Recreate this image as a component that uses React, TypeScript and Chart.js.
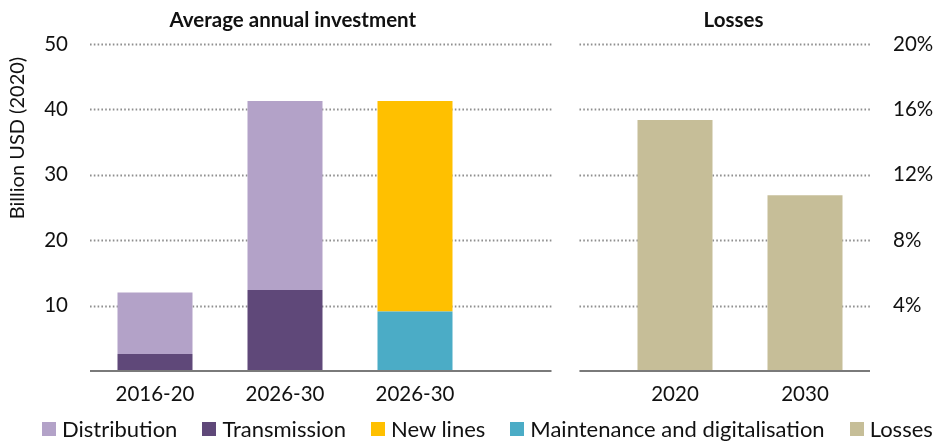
import React, { useEffect, useRef } from "react";
import { Chart, registerables } from "chart.js";

Chart.register(...registerables);

const categories = ["2016-20", "2026-30", "2026-30", "", "2020", "2030"];
const transmission = [2.6, 12.4, null, null, null, null];
const distribution = [9.4, 28.9, null, null, null, null];
const maintenance = [null, null, 9.1, null, null, null];
const newLines = [null, null, 32.2, null, null, null];
const losses = [null, null, null, null, 15.35, 10.75];

const leftTicks = [0, 10, 20, 30, 40, 50];
const rightTicks = [0, 4, 8, 12, 16, 20];

const COLORS = {
  distribution: "#B3A2C8",
  transmission: "#5F4879",
  newLines: "#FFC000",
  maintenance: "#4BACC6",
  losses: "#C6BE98",
};

const legendItems = [
  { label: "Distribution", color: COLORS.distribution },
  { label: "Transmission", color: COLORS.transmission },
  { label: "New lines", color: COLORS.newLines },
  { label: "Maintenance and digitalisation", color: COLORS.maintenance },
  { label: "Losses", color: COLORS.losses },
];

const FONT = "Lato, 'Open Sans', sans-serif";
const TEXT = "#111111";

const panelPlugin = {
  id: "panelPlugin",
  beforeDatasetsDraw(chart: any) {
    const { ctx, chartArea, scales } = chart;
    const x = scales.x;
    const y = scales.y;
    const leftEnd = x.getPixelForValue(3.05);
    const rightStart = x.getPixelForValue(3.265);
    ctx.save();
    ctx.strokeStyle = "#8f8f8f";
    ctx.lineWidth = 1.8;
    ctx.setLineDash([1.6, 2.2]);
    leftTicks.forEach((v) => {
      if (v === 0) return;
      const py = Math.round(y.getPixelForValue(v)) + 0.5;
      ctx.beginPath();
      ctx.moveTo(chartArea.left, py);
      ctx.lineTo(leftEnd, py);
      ctx.moveTo(rightStart, py);
      ctx.lineTo(chartArea.right, py);
      ctx.stroke();
    });
    ctx.restore();
  },
  afterDatasetsDraw(chart: any) {
    const { ctx, chartArea, scales } = chart;
    const x = scales.x;
    const y = scales.y;
    const leftEnd = x.getPixelForValue(3.05);
    const rightStart = x.getPixelForValue(3.265);
    const py = y.getPixelForValue(0);
    ctx.save();
    ctx.strokeStyle = "#7a7a7a";
    ctx.lineWidth = 2;
    ctx.beginPath();
    ctx.moveTo(chartArea.left, py);
    ctx.lineTo(leftEnd, py);
    ctx.moveTo(rightStart, py);
    ctx.lineTo(chartArea.right, py);
    ctx.stroke();

    ctx.fillStyle = TEXT;
    ctx.font = `bold 20.5px ${FONT}`;
    ctx.textAlign = "center";
    ctx.textBaseline = "alphabetic";
    ctx.fillText("Average annual investment", x.getPixelForValue(1.06), 27);
    ctx.fillText("Losses", x.getPixelForValue(4.45), 27);

    ctx.font = `20px ${FONT}`;
    ctx.translate(18, chartArea.top + 94);
    ctx.rotate(-Math.PI / 2);
    ctx.textBaseline = "middle";
    ctx.fillText("Billion USD (2020)", 0, 0);
    ctx.restore();
  },
};

export default function App() {
  const ref = useRef<HTMLCanvasElement | null>(null);

  useEffect(() => {
    if (!ref.current) return;
    const mk = (label: string, data: any[], color: string, yAxisID = "y") => ({
      label,
      data,
      backgroundColor: color,
      borderWidth: 0,
      yAxisID,
      barPercentage: 0.577,
      categoryPercentage: 1,
    });
    const chart = new Chart(ref.current, {
      type: "bar",
      data: {
        labels: categories,
        datasets: [
          mk("Transmission", transmission, COLORS.transmission),
          mk("Distribution", distribution, COLORS.distribution),
          mk("Maintenance and digitalisation", maintenance, COLORS.maintenance),
          mk("New lines", newLines, COLORS.newLines),
          mk("Losses", losses, COLORS.losses, "y2"),
        ],
      },
      options: {
        responsive: false,
        animation: false,
        layout: { padding: { top: 44, left: 0, right: 0, bottom: 0 } },
        plugins: {
          legend: { display: false },
          tooltip: { enabled: false },
          title: { display: false },
        },
        scales: {
          x: {
            stacked: true,
            offset: true,
            grid: { display: false, drawTicks: false },
            border: { display: false },
            ticks: {
              color: TEXT,
              font: { family: FONT, size: 20.5 },
              padding: 11,
              maxRotation: 0,
              autoSkip: false,
            },
            afterFit: (s: any) => {
              s.height = 72;
            },
          },
          y: {
            stacked: true,
            position: "left",
            min: 0,
            max: 50,
            afterBuildTicks: (s: any) => {
              s.ticks = leftTicks.map((v) => ({ value: v }));
            },
            grid: { display: false, drawTicks: false },
            border: { display: false },
            ticks: {
              color: TEXT,
              font: { family: FONT, size: 20.5 },
              padding: 22,
              callback: (v: any) => (v === 0 ? "" : String(v)),
            },
            afterFit: (s: any) => {
              s.width = 90;
            },
          },
          y2: {
            stacked: true,
            position: "right",
            min: 0,
            max: 20,
            afterBuildTicks: (s: any) => {
              s.ticks = rightTicks.map((v) => ({ value: v }));
            },
            grid: { display: false, drawTicks: false },
            border: { display: false },
            ticks: {
              color: TEXT,
              font: { family: FONT, size: 20.5 },
              padding: 23,
              callback: (v: any) => (v === 0 ? "" : `${v}%`),
            },
            afterFit: (s: any) => {
              s.width = 69;
            },
          },
        },
      },
      plugins: [panelPlugin],
    } as any);
    return () => chart.destroy();
  }, []);

  return (
    <div
      style={{
        position: "absolute",
        left: 0,
        top: 0,
        width: 939,
        height: 443,
        background: "#fff",
        overflow: "hidden",
      }}
    >
      <canvas ref={ref} width={939} height={443} style={{ display: "block" }} />
      <div
        style={{
          position: "absolute",
          left: 42,
          top: 416,
          display: "flex",
          alignItems: "center",
          fontFamily: FONT,
          fontSize: 22,
          color: TEXT,
          whiteSpace: "nowrap",
          lineHeight: "26px",
        }}
      >
        {legendItems.map((it) => (
          <span
            key={it.label}
            style={{ display: "inline-flex", alignItems: "center", marginRight: 25 }}
          >
            <span
              style={{
                display: "inline-block",
                width: 14,
                height: 14,
                background: it.color,
                marginRight: 6,
              }}
            />
            {it.label}
          </span>
        ))}
      </div>
    </div>
  );
}
